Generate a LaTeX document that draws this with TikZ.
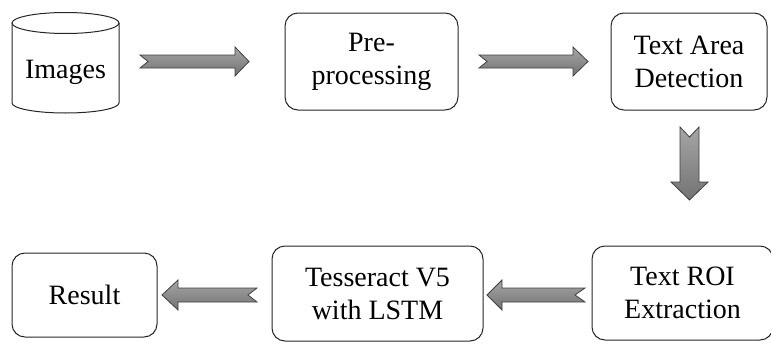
\documentclass[tikz,border=0pt]{standalone}
\usepackage{fontspec}
\setmainfont{Liberation Serif}
\newfontfamily\timesfam{Liberation Serif}
\begin{document}
\begin{tikzpicture}[x=1pt,y=-1pt,
  font=\timesfam\fontsize{28}{33}\selectfont,
  box/.style={draw=black!85, line width=1pt, rounded corners=13pt, align=center, inner sep=0pt},
  cyl/.style={draw=black!85, line width=1pt},
  arr/.style={draw=black!75, line width=0.8pt, top color=black!35, bottom color=black!55},
  pics/barrow/.style n args={5}{code={%
    \path[arr] (0,#2) -- ({#1-#4},#2) -- ({#1-#4},#3) -- (#1,0) -- ({#1-#4},-#3)
      -- ({#1-#4},-#2) -- (0,-#2) -- (#5,0) -- cycle;}}]
\useasboundingbox (0,0) rectangle (771,343);

% cylinder "Images"
\draw[cyl] (12,23) -- (12,103) arc[start angle=180, end angle=0, x radius=53.5, y radius=10] -- (119,23);
\draw[cyl] (65.5,23) ellipse [x radius=53.5, y radius=10.5];
\node[anchor=base, inner sep=0pt] (img) at (65.5,78) {Images};

% boxes
\node[box, minimum width=173pt, minimum height=97pt] (pre) at (371.5,61.5) {Pre-\\processing};
\node[box, minimum width=156pt, minimum height=97pt] (det) at (689,61.5) {Text Area\\Detection};
\node[box, minimum width=181pt, minimum height=94pt] (roi) at (682.5,293) {Text ROI\\Extraction};
\node[box, minimum width=211pt, minimum height=95pt] (tess) at (377.5,293.5) {Tesseract V5\\with LSTM};
\node[box, minimum width=145pt, minimum height=84pt] (res) at (84.5,295) {Result};

% block arrows
\coordinate (a1) at (140,61.5);
\coordinate (a2) at (479,61.5);
\coordinate (a3) at (689.5,127);
\coordinate (a4) at (585,295);
\coordinate (a5) at (257,295);
\pic at (a1) {barrow={109}{6.5}{14.5}{14}{8}};
\pic at (a2) {barrow={109}{6.5}{14.5}{15}{8}};
\pic[rotate=-90] at (a3) {barrow={73}{9.5}{18.5}{18}{10}};
\pic[rotate=180] at (a4) {barrow={98}{7}{15}{15}{10}};
\pic[rotate=180] at (a5) {barrow={95}{7}{15}{16}{9}};
\end{tikzpicture}
\end{document}
